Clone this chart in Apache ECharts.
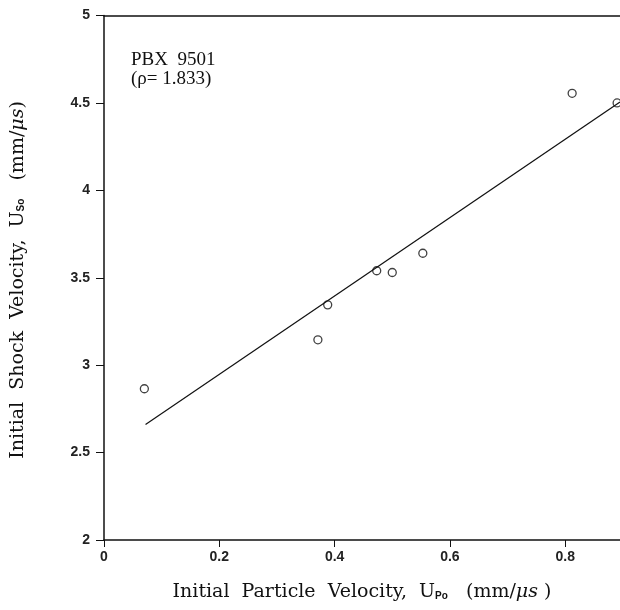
<!DOCTYPE html>
<html>
<head>
<meta charset="utf-8">
<script src="https://cdn.jsdelivr.net/npm/echarts@6/dist/echarts.min.js"></script>
<style>
  html, body { margin: 0; padding: 0; background: #fff; }
  #container { width: 620px; height: 610px; }
</style>
</head>
<body>
<div id="container"></div>
<script>
// measured shots (particle velocity, shock velocity)
const particleVel = [0.070, 0.371, 0.388, 0.473, 0.500, 0.553, 0.812, 0.890];
const shockVel = [2.865, 3.145, 3.345, 3.54, 3.53, 3.64, 4.555, 4.50];

// fitted line, read at its two ends
const fitX = [0.072, 0.895];
const fitY = [2.66, 4.505];

const xTicks = [0, 0.2, 0.4, 0.6, 0.8];
const yTicks = [2, 2.5, 3, 3.5, 4, 4.5, 5];

const pts = particleVel.map((x, i) => [x, shockVel[i]]);
const fit = fitX.map((x, i) => [x, fitY[i]]);

const dom = document.getElementById('container');
const myChart = echarts.init(dom);

const tickFont = { fontFamily: 'Liberation Sans', fontSize: 14, fontWeight: 'bold', color: '#222' };
const serif = 'DejaVu Serif';
const titleRich = {
  sub: { fontFamily: 'Liberation Sans', fontSize: 10, fontWeight: 'bold', fill: '#111', color: '#111', padding: [7, 0, 0, 0] },
  it: { fontFamily: serif, fontSize: 19, fontStyle: 'italic', fill: '#111', color: '#111' }
};

const option = {
  animation: false,
  backgroundColor: '#fff',
  grid: { left: 104, right: -4, top: 15.5, bottom: 70 },
  xAxis: [
    {
      type: 'value',
      min: 0,
      max: 0.895,
      interval: 0.2,
      splitLine: { show: false },
      axisLine: { lineStyle: { color: '#111', width: 1.5 } },
      axisTick: { length: 7, lineStyle: { color: '#111' }, customValues: xTicks },
      axisLabel: Object.assign({ margin: 10, customValues: xTicks }, tickFont),
      name: 'Initial  Particle  Velocity,  U{sub|Po}   (mm/{it|μs} )',
      nameLocation: 'middle',
      nameGap: 43,
      nameTextStyle: { fontFamily: serif, fontSize: 19, color: '#111', rich: titleRich }
    },
    {
      type: 'value',
      position: 'top',
      min: 0,
      max: 0.895,
      axisLine: { show: true, onZero: false, lineStyle: { color: '#111', width: 1.5 } },
      axisTick: { show: false },
      axisLabel: { show: false },
      splitLine: { show: false }
    }
  ],
  yAxis: {
    type: 'value',
    min: 2,
    max: 5,
    interval: 0.5,
    splitLine: { show: false },
    axisLine: { show: true, lineStyle: { color: '#111', width: 1.5 } },
    axisTick: { show: true, length: 8, lineStyle: { color: '#111' } },
    axisLabel: Object.assign({ margin: 14 }, tickFont)
  },
  graphic: [
    {
      type: 'text',
      left: 131,
      top: 51,
      style: {
        text: 'PBX  9501\n(ρ= 1.833)',
        font: '19px "Liberation Serif"',
        fill: '#111',
        lineHeight: 19
      }
    },
    {
      type: 'text',
      x: 18,
      y: 280,
      rotation: Math.PI / 2,
      style: {
        text: 'Initial  Shock  Velocity,  U{sub|So}   (mm/{it|μs})',
        font: '19px "DejaVu Serif"',
        fill: '#111',
        align: 'center',
        verticalAlign: 'middle',
        rich: titleRich
      }
    }
  ],
  series: [
    {
      type: 'line',
      data: fit,
      showSymbol: false,
      lineStyle: { color: '#111', width: 1.2 },
      silent: true
    },
    {
      type: 'scatter',
      data: pts,
      symbol: 'circle',
      symbolSize: 8,
      itemStyle: { color: '#fff', borderColor: '#111', borderWidth: 1.3 }
    }
  ]
};

myChart.setOption(option);
</script>
</body>
</html>
